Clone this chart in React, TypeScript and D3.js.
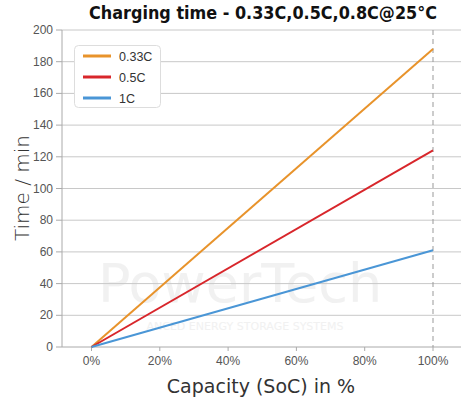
import React, { useEffect, useRef } from 'react';
import * as d3 from 'd3';

const socPoints = [0, 100];
const seriesNames = ['0.33C', '0.5C', '1C'];
const seriesValues = [
  [0, 188],
  [0, 124],
  [0, 61],
];
const seriesColors = ['#e8932b', '#d8262b', '#4a96d6'];
const yTicks = [0, 20, 40, 60, 80, 100, 120, 140, 160, 180, 200];
const xTicks = [0, 20, 40, 60, 80, 100];

const W = 461;
const H = 404;

const App = () => {
  const ref = useRef<SVGSVGElement>(null);

  useEffect(() => {
    const svg = d3.select(ref.current);
    svg.selectAll('*').remove();

    const left = 62;
    const right = W;
    const top = 30;
    const bottom = 347;

    const x = d3.scaleLinear().domain([0, 100]).range([91.5, 433]);
    const y = d3.scaleLinear().domain([0, 200]).range([bottom, top]);

    // watermark
    const wm = svg.append('g').attr('opacity', 0.5);
    wm.append('text')
      .attr('x', 240).attr('y', 302)
      .attr('text-anchor', 'middle')
      .attr('font-family', 'DejaVu Sans')
      .attr('font-size', 54)
      .attr('fill', '#e4e4e4')
      .text('PowerTech');
    wm.append('text')
      .attr('x', 245).attr('y', 330)
      .attr('text-anchor', 'middle')
      .attr('font-family', 'DejaVu Sans')
      .attr('font-size', 11)
      .attr('fill', '#e4e4e4')
      .text('ANCED ENERGY STORAGE SYSTEMS');

    // grid
    svg.append('g').selectAll('line')
      .data(yTicks.filter(d => d > 0))
      .enter().append('line')
      .attr('x1', left).attr('x2', right)
      .attr('y1', d => y(d)).attr('y2', d => y(d))
      .attr('stroke', '#c8c8c8').attr('stroke-width', 1);

    // axis lines
    svg.append('line')
      .attr('x1', left).attr('x2', left).attr('y1', top).attr('y2', bottom)
      .attr('stroke', '#aaaaaa');
    svg.append('line')
      .attr('x1', left).attr('x2', right).attr('y1', bottom).attr('y2', bottom)
      .attr('stroke', '#aaaaaa');

    // y ticks
    const yg = svg.append('g');
    yg.selectAll('line').data(yTicks).enter().append('line')
      .attr('x1', left - 6).attr('x2', left)
      .attr('y1', d => y(d)).attr('y2', d => y(d))
      .attr('stroke', '#aaaaaa');
    yg.selectAll('text').data(yTicks).enter().append('text')
      .attr('x', left - 9).attr('y', d => y(d) + 4)
      .attr('text-anchor', 'end')
      .attr('font-family', 'Liberation Sans, Arial')
      .attr('font-size', 12)
      .attr('fill', '#555')
      .text(d => d);

    // x ticks
    const xg = svg.append('g');
    xg.selectAll('line').data(xTicks).enter().append('line')
      .attr('x1', d => x(d)).attr('x2', d => x(d))
      .attr('y1', bottom).attr('y2', bottom + 4)
      .attr('stroke', '#aaaaaa');
    xg.selectAll('text').data(xTicks).enter().append('text')
      .attr('x', d => x(d)).attr('y', bottom + 18)
      .attr('text-anchor', 'middle')
      .attr('font-family', 'Liberation Sans, Arial')
      .attr('font-size', 12)
      .attr('fill', '#555')
      .text(d => d + '%');

    // dashed 100% line
    svg.append('line')
      .attr('x1', x(100)).attr('x2', x(100)).attr('y1', top).attr('y2', bottom)
      .attr('stroke', '#999').attr('stroke-dasharray', '5,4');

    // series
    const line = d3.line<number>()
      .x((_, i) => x(socPoints[i]))
      .y(d => y(d));
    seriesValues.forEach((vals, i) => {
      svg.append('path')
        .attr('d', line(vals))
        .attr('fill', 'none')
        .attr('stroke', seriesColors[i])
        .attr('stroke-width', 2);
    });

    // legend
    const lg = svg.append('g');
    lg.append('rect')
      .attr('x', 74.5).attr('y', 45.5).attr('width', 86).attr('height', 62)
      .attr('rx', 4)
      .attr('fill', 'white').attr('stroke', '#dddddd');
    seriesNames.forEach((n, i) => {
      const ly = 56 + i * 21;
      lg.append('line')
        .attr('x1', 83).attr('x2', 111).attr('y1', ly).attr('y2', ly)
        .attr('stroke', seriesColors[i]).attr('stroke-width', 3);
      lg.append('text')
        .attr('x', 119).attr('y', ly + 4.5)
        .attr('font-family', 'Liberation Sans, Arial')
        .attr('font-size', 12.5)
        .attr('fill', '#333')
        .text(n);
    });

    // title
    svg.append('text')
      .attr('x', 263).attr('y', 19)
      .attr('text-anchor', 'middle')
      .attr('font-family', 'DejaVu Sans')
      .attr('font-weight', 'bold')
      .attr('font-size', 17)
      .attr('textLength', 348)
      .attr('lengthAdjust', 'spacingAndGlyphs')
      .attr('fill', '#111')
      .text('Charging time - 0.33C,0.5C,0.8C@25°C');

    // axis titles
    svg.append('text')
      .attr('transform', 'translate(29,188) rotate(-90)')
      .attr('text-anchor', 'middle')
      .attr('font-family', 'DejaVu Sans')
      .attr('font-weight', 300)
      .attr('font-size', 20)
      .attr('fill', '#333')
      .text('Time / min');
    svg.append('text')
      .attr('x', 261).attr('y', 393)
      .attr('text-anchor', 'middle')
      .attr('font-family', 'DejaVu Sans')
      .attr('font-size', 19)
      .attr('fill', '#333')
      .text('Capacity (SoC) in %');
  }, []);

  return (
    <svg ref={ref} width={W} height={H}
      style={{ position: 'absolute', left: 0, top: 0, background: 'white' }} />
  );
};

export default App;
